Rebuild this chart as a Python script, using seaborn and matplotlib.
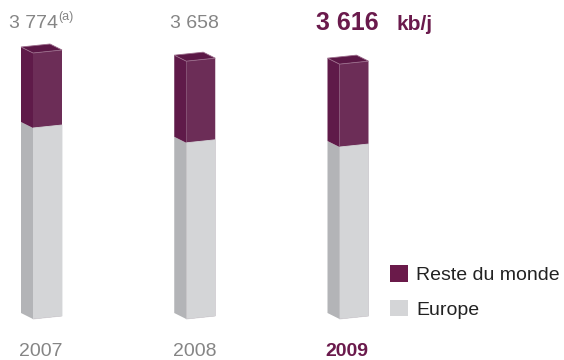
import numpy as np
import matplotlib
matplotlib.use("Agg")
import matplotlib.pyplot as plt
from matplotlib.patches import Polygon, Patch
from matplotlib.transforms import Affine2D, offset_copy, blended_transform_factory
import seaborn as sns

# Ventes de produits pétroliers (kb/j)
years = ["2007", "2008", "2009"]
europe = [2710, 2500, 2440]
reste_du_monde = [1064, 1158, 1176]
totals = [e + r for e, r in zip(europe, reste_du_monde)]
series_labels = ["Reste du monde", "Europe"]
unit = "kb/j"

PURPLE_FRONT = "#6c2d57"
PURPLE_SIDE = "#5f1a49"
PURPLE_TOP = "#5b1846"
PURPLE_TEXT = "#6a1a4c"
GREY_FRONT = "#d4d5d7"
GREY_SIDE = "#b3b4b7"
GREY_TEXT = "#858585"

sns.set_theme(style="white")
plt.rcParams["font.family"] = ["Liberation Sans", "DejaVu Sans"]

W, H = 564, 360
fig = plt.figure(figsize=(W / 100, H / 100), dpi=100)
ax = fig.add_axes([0, 0, 1, 1])

# pixel geometry of the drawing
px_per_val = 266 / 3774.0          # vertical pixels per kb/j
base_px = 319                      # baseline, pixels from the top
first_px = 47.5                    # centre of the first front face
step_px = 153.25                   # distance between bars
front_px = 29                      # front face width
depth_dx, depth_dy = -12, 6        # side face offset (pixels)
tilt_px = 3                        # front face rise from left to right

x0 = -first_px / step_px
x1 = (W - first_px) / step_px
y0 = -(H - base_px) / px_per_val
y1 = base_px / px_per_val

width = front_px / step_px
ddx = depth_dx / step_px
ddy = depth_dy / px_per_val
tilt = tilt_px / px_per_val

sns.barplot(x=years, y=totals, color=PURPLE_FRONT, saturation=1,
            width=width, linewidth=0, ax=ax)
sns.barplot(x=years, y=europe, color=GREY_FRONT, saturation=1,
            width=width, linewidth=0.6, edgecolor=GREY_FRONT, ax=ax)
ax.set_xlim(x0, x1)
ax.set_ylim(y0, y1)
ax.axis("off")

# tilt the front faces slightly and add the side and top faces
slope = tilt / width
for p in ax.patches[:]:
    xl = p.get_x()
    aff = Affine2D(np.array([[1, 0, 0], [slope, 1, -slope * xl], [0, 0, 1]]))
    p.set_transform(aff + ax.transData)

for i in range(len(years)):
    xl = i - width / 2
    xr = i + width / 2
    segs = [(0, europe[i], GREY_SIDE), (europe[i], totals[i], PURPLE_SIDE)]
    for yb, yt, col in segs:
        ax.add_patch(Polygon([(xl, yb), (xl, yt), (xl + ddx, yt + ddy),
                              (xl + ddx, yb + ddy)], closed=True,
                             facecolor=col, edgecolor="none", zorder=2))
    yt = totals[i]
    ax.add_patch(Polygon([(xl, yt), (xr, yt + tilt), (xr + ddx, yt + tilt + ddy),
                          (xl + ddx, yt + ddy)], closed=True,
                         facecolor=PURPLE_TOP, edgecolor="#9a6b8a",
                         linewidth=0.6, zorder=3))

def fmt(v):
    return f"{v:,}".replace(",", " ")

top_tr = blended_transform_factory(ax.transData, ax.transAxes)
last = len(years) - 1

# values above the bars
for i, v in enumerate(totals):
    if i == last:
        tr = offset_copy(top_tr, fig=fig, x=-38, y=0, units="dots")
        ax.text(i, 1 - 30 / H, fmt(v), transform=tr, ha="left", va="baseline",
                fontsize=18, fontweight="bold", color=PURPLE_TEXT)
        tr2 = offset_copy(top_tr, fig=fig, x=43, y=0, units="dots")
        ax.text(i, 1 - 30 / H, unit, transform=tr2, ha="left", va="baseline",
                fontsize=15, fontweight="bold", color=PURPLE_TEXT)
    elif i == 0:
        tr = offset_copy(top_tr, fig=fig, x=10.5, y=0, units="dots")
        ax.text(i, 1 - 28 / H, fmt(v), transform=tr, ha="right", va="baseline",
                fontsize=14, color=GREY_TEXT)
        ax.text(i, 1 - 20 / H, "(a)", transform=tr, ha="left", va="baseline",
                fontsize=9, color=GREY_TEXT)
    else:
        tr = offset_copy(top_tr, fig=fig, x=-6.5, y=0, units="dots")
        ax.text(i, 1 - 28 / H, fmt(v), transform=tr, ha="center", va="baseline",
                fontsize=14, color=GREY_TEXT)

# year labels
for i, yr in enumerate(years):
    bold = i == last
    tr = offset_copy(top_tr, fig=fig, x=-7 if bold else -6.5, y=0, units="dots")
    ax.text(i, 1 - 356 / H, yr, transform=tr, ha="center", va="baseline",
            fontsize=14, fontweight="bold" if bold else "normal",
            color=PURPLE_TEXT if bold else GREY_TEXT)

handles = [Patch(facecolor="#6a1a4a", edgecolor="none"),
           Patch(facecolor=GREY_FRONT, edgecolor="none")]
leg = fig.legend(handles, series_labels, loc="upper left",
                 bbox_to_anchor=(390 / W, 1 - 265 / H), frameon=False,
                 fontsize=14, handlelength=0.93, handleheight=0.93,
                 handletextpad=0.42, labelspacing=0.82, borderpad=0,
                 borderaxespad=0)
for t in leg.get_texts():
    t.set_color("#222222")

fig.savefig("out.png", dpi=100)
